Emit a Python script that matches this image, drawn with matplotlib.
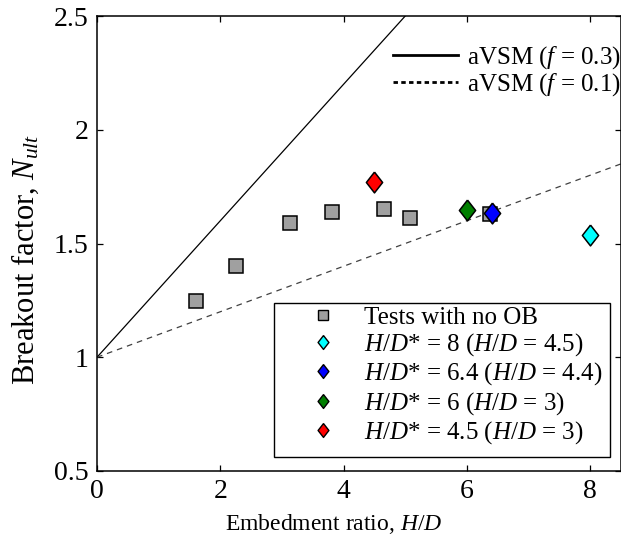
import numpy as np
import matplotlib
matplotlib.use("Agg")
import matplotlib.pyplot as plt
from matplotlib.lines import Line2D
from matplotlib.patches import Rectangle

plt.rcParams.update({
    "font.family": "Liberation Serif", "font.size": 18,
    "mathtext.fontset": "custom", "mathtext.rm": "Liberation Serif",
    "mathtext.it": "Liberation Serif:italic", "mathtext.default": "it",
    "axes.linewidth": 1.1, "xtick.direction": "in", "ytick.direction": "in",
    "xtick.top": True, "ytick.right": True,
    "xtick.major.size": 4, "ytick.major.size": 4,
    "xtick.major.width": 0.9, "ytick.major.width": 0.9,
})

# tests with no overburden
hd_no_ob = [1.60, 2.26, 3.13, 3.82, 4.65, 5.08, 6.37]
nult_no_ob = [1.247, 1.400, 1.589, 1.640, 1.653, 1.613, 1.628]
# tests with overburden (H/D*)
ob_hd = [8.0, 6.4, 6.0, 4.5]
ob_nult = [1.537, 1.633, 1.647, 1.769]
ob_colors = ["#00ffff", "#0000ff", "#007f00", "#ff0000"]
ob_labels = [r"$H/D$* = 8 ($H/D$ = 4.5)", r"$H/D$* = 6.4 ($H/D$ = 4.4)",
             r"$H/D$* = 6 ($H/D$ = 3)", r"$H/D$* = 4.5 ($H/D$ = 3)"]
# aVSM lines (end points)
avsm03_x = [0.0, 5.0]; avsm03_y = [1.0, 2.5]
avsm01_x = [0.0, 8.5]; avsm01_y = [1.0, 1.85]

DIAMOND = [(0, 0.5), (0.39, 0), (0, -0.5), (-0.39, 0), (0, 0.5)]
SQ_GRAY = "#a0a0a0"

fig = plt.figure(figsize=(6.21, 5.44), dpi=100)
ax = fig.add_axes([97/621, 73/544, 524/621, 455/544])

ax.plot(avsm03_x, avsm03_y, color="black", lw=0.9)
ax.plot(avsm01_x, avsm01_y, color="#404040", lw=0.9, dashes=(4.5, 4))

ax.plot(hd_no_ob, nult_no_ob, ls="none", marker="s", ms=9.5, mfc=SQ_GRAY,
        mec="black", mew=1.1, zorder=3)
for x, y, c in zip(ob_hd, ob_nult, ob_colors):
    ax.plot([x], [y], ls="none", marker=DIAMOND, ms=15, mfc=c, mec="black",
            mew=1.1, zorder=4)

ax.set_xlim(0, 8.5); ax.set_ylim(0.5, 2.5)
ax.set_xticks([0, 2, 4, 6, 8])
ax.set_yticks([0.5, 1, 1.5, 2, 2.5])
ax.set_yticklabels(["0.5", "1", "1.5", "2", "2.5"])
ax.tick_params(axis="x", pad=5.5, labelsize=20)
ax.tick_params(axis="y", pad=6, labelsize=20)
ax.set_xlabel(r"Embedment ratio, $H/D$", fontsize=17)
ax.set_ylabel(r"Breakout factor, $N_{ult}$", fontsize=22)
ax.xaxis.set_label_coords(0.451, -0.09)
ax.yaxis.set_label_coords(-0.106, 0.464)

line_handles = [Line2D([], [], color="black", lw=2),
                Line2D([], [], color="black", lw=2, dashes=(1.6, 1.2))]
leg1 = ax.legend(line_handles, [r"aVSM ($f$ = 0.3)", r"aVSM ($f$ = 0.1)"],
                 loc="upper left", bbox_to_anchor=(0.564, 0.938), frameon=False,
                 handlelength=2.6, handletextpad=0.37, labelspacing=0.0,
                 borderaxespad=0.0, borderpad=0.0, fontsize=18)
ax.add_artist(leg1)

# legend box for the markers
ax.add_patch(Rectangle((0.338, 0.031), 0.641, 0.338, transform=ax.transAxes,
                       fill=True, facecolor="white", edgecolor="black", lw=1.0, zorder=5))
mk_handles = [Line2D([], [], ls="none", marker="s", ms=7, mfc=SQ_GRAY, mec="black", mew=1)]
mk_handles += [Line2D([], [], ls="none", marker=DIAMOND, ms=10, mfc=c, mec="black", mew=1)
               for c in ob_colors]
leg2 = ax.legend(mk_handles, ["Tests with no OB"] + ob_labels, loc="upper left",
                 bbox_to_anchor=(0.402, 0.362), frameon=False, handlelength=1.2,
                 handletextpad=1.05, labelspacing=0.1, borderpad=0.0,
                 borderaxespad=0.0, fontsize=18)
leg2.set_zorder(6)

fig.savefig("out.png", dpi=100)
